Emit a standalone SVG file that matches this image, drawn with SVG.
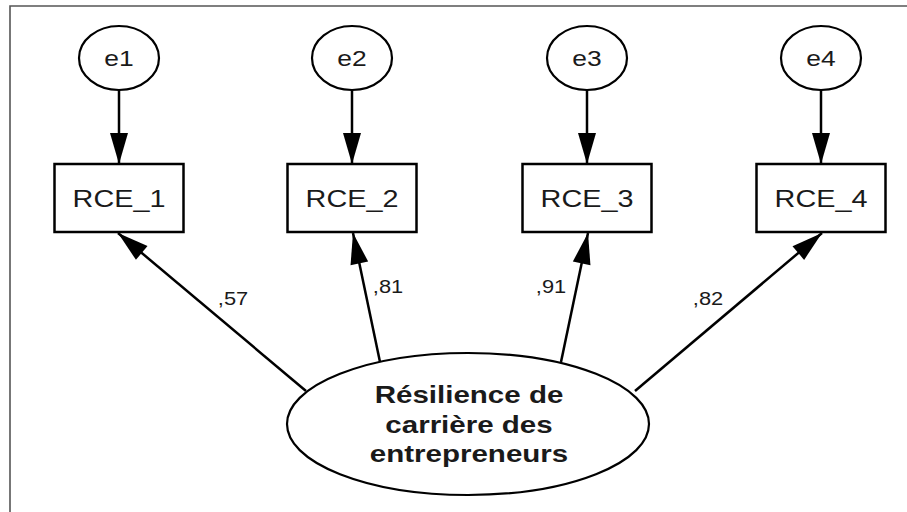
<svg xmlns="http://www.w3.org/2000/svg" width="907" height="512" viewBox="0 0 907 512">
  <style>
    .frame { fill: none; stroke: #555; stroke-width: 1.6; }
    .err { fill: #fff; stroke: #000; stroke-width: 2.2; }
    .obs { fill: #fff; stroke: #000; stroke-width: 2.5; }
    .lat { fill: #fff; stroke: #000; stroke-width: 2.2; }
    .edge { fill: none; stroke: #000; stroke-width: 2.5; marker-end: url(#head); }
    text { font-family: "Liberation Sans", Arial, sans-serif; fill: #1a1a1a; text-anchor: middle; }
    .t-err { font-size: 22px; }
    .t-obs { font-size: 24px; }
    .t-lat { font-size: 24px; font-weight: bold; }
    .t-w { font-size: 19px; }
  </style>
  <defs>
    <marker id="head" markerUnits="userSpaceOnUse" markerWidth="32" markerHeight="18" refX="31" refY="9" orient="auto" overflow="visible">
      <path d="M0,0 L31,9 L0,18 Z" fill="#000"/>
    </marker>
  </defs>

  <rect width="907" height="512" fill="#fff"/>
  <path class="frame" d="M10,512 V6 H907"/>

  <!-- paths: errors to indicators, latent factor to indicators -->
  <g id="connectors">
    <line class="edge" x1="119" y1="90" x2="119" y2="164"/>
    <line class="edge" x1="352" y1="90" x2="352" y2="164"/>
    <line class="edge" x1="587" y1="90" x2="587" y2="164"/>
    <line class="edge" x1="821" y1="90" x2="821" y2="164"/>
    <line class="edge" x1="306" y1="391" x2="118" y2="233"/>
    <line class="edge" x1="380" y1="362" x2="353" y2="233"/>
    <line class="edge" x1="561" y1="362" x2="588" y2="233"/>
    <line class="edge" x1="635" y1="391" x2="822" y2="233"/>
    <text class="t-w" transform="translate(233,305) scale(1.15,1)">,57</text>
    <text class="t-w" transform="translate(388,293) scale(1.15,1)">,81</text>
    <text class="t-w" transform="translate(551,293) scale(1.15,1)">,91</text>
    <text class="t-w" transform="translate(708,305) scale(1.15,1)">,82</text>
  </g>

  <g id="e1">
    <ellipse class="err" cx="119" cy="58" rx="40" ry="32"/>
    <text class="t-err" transform="translate(119,66) scale(1.2,1)">e1</text>
  </g>
  <g id="e2">
    <ellipse class="err" cx="352" cy="58" rx="40" ry="32"/>
    <text class="t-err" transform="translate(352,66) scale(1.2,1)">e2</text>
  </g>
  <g id="e3">
    <ellipse class="err" cx="587" cy="58" rx="40" ry="32"/>
    <text class="t-err" transform="translate(587,66) scale(1.2,1)">e3</text>
  </g>
  <g id="e4">
    <ellipse class="err" cx="821" cy="58" rx="40" ry="32"/>
    <text class="t-err" transform="translate(821,66) scale(1.2,1)">e4</text>
  </g>

  <g id="RCE_1">
    <rect class="obs" x="54.5" y="164" width="129" height="68"/>
    <text class="t-obs" transform="translate(119,207) scale(1.2,1)">RCE_1</text>
  </g>
  <g id="RCE_2">
    <rect class="obs" x="287.5" y="164" width="129" height="68"/>
    <text class="t-obs" transform="translate(352,207) scale(1.2,1)">RCE_2</text>
  </g>
  <g id="RCE_3">
    <rect class="obs" x="522.5" y="164" width="129" height="68"/>
    <text class="t-obs" transform="translate(587,207) scale(1.2,1)">RCE_3</text>
  </g>
  <g id="RCE_4">
    <rect class="obs" x="756.5" y="164" width="129" height="68"/>
    <text class="t-obs" transform="translate(821,207) scale(1.2,1)">RCE_4</text>
  </g>

  <g id="resilience">
    <ellipse class="lat" cx="468" cy="424" rx="181" ry="71"/>
    <text class="t-lat" transform="translate(469,403) scale(1.23,1)">Résilience de</text>
    <text class="t-lat" transform="translate(469,433) scale(1.23,1)">carrière des</text>
    <text class="t-lat" transform="translate(469,462) scale(1.23,1)">entrepreneurs</text>
  </g>
</svg>
